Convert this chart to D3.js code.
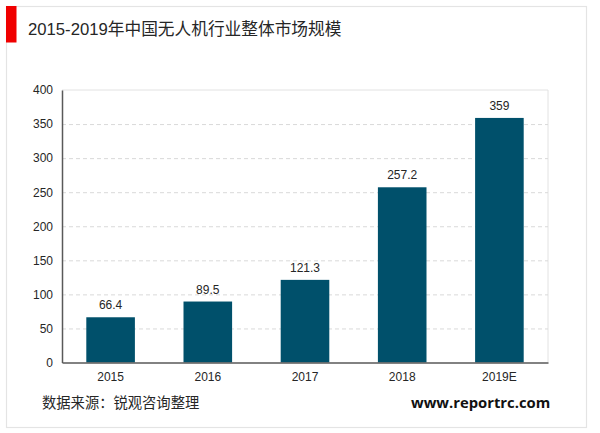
<!DOCTYPE html>
<html>
<head>
<meta charset="utf-8">
<script src="https://cdn.jsdelivr.net/npm/d3@7"></script>
<style>
html, body { margin: 0; padding: 0; background: #fff; }
text { font-family: "Liberation Sans", "Noto Sans CJK SC", sans-serif; fill: #262626; }
</style>
</head>
<body>
<div id="chart"></div>
<script>
var categories = ["2015", "2016", "2017", "2018", "2019E"];
var marketSize = [66.4, 89.5, 121.3, 257.2, 359];
var valueLabels = ["66.4", "89.5", "121.3", "257.2", "359"];
var yTicks = [0, 50, 100, 150, 200, 250, 300, 350, 400];

var titleText = "2015-2019年中国无人机行业整体市场规模";
var sourceText = "数据来源：锐观咨询整理";
var siteText = "www.reportrc.com";

var svg = d3.select("#chart").append("svg")
    .attr("width", 600).attr("height", 433)
    .style("display", "block");

// outer frame and red title marker
svg.append("rect").attr("x", 6.5).attr("y", 6.5).attr("width", 580).attr("height", 421)
    .attr("fill", "#fff").attr("stroke", "#e4e4e4").attr("stroke-width", 1.2);
svg.append("rect").attr("x", 6).attr("y", 6).attr("width", 10.5).attr("height", 36.5).attr("fill", "#f00000");
svg.append("text").attr("x", 28).attr("y", 35).attr("font-size", 16.7).text(titleText);

var x = d3.scaleBand().domain(categories).range([62, 548]).paddingInner(0.5).paddingOuter(0.25);
var y = d3.scaleLinear().domain([0, 400]).range([362.5, 90]);

// plot frame, top and right are light
svg.append("path").attr("d", "M62,90H548V362").attr("fill", "none").attr("stroke", "#e2e2e2").attr("stroke-width", 1);

var grid = svg.append("g").call(d3.axisLeft(y).tickValues(yTicks.slice(1, -1)).tickSize(-486).tickFormat(""))
    .attr("transform", "translate(62,0)");
grid.select(".domain").remove();
grid.selectAll("line").attr("stroke", "#d9d9d9").attr("stroke-dasharray", "4 3");

svg.selectAll("rect.bar").data(marketSize).enter().append("rect")
    .attr("class", "bar")
    .attr("x", function(d, i) { return x(categories[i]); })
    .attr("y", function(d) { return y(d); })
    .attr("width", x.bandwidth())
    .attr("height", function(d) { return y(0) - y(d); })
    .attr("fill", "#00506b");

svg.selectAll("text.val").data(marketSize).enter().append("text")
    .attr("class", "val")
    .attr("x", function(d, i) { return x(categories[i]) + x.bandwidth() / 2; })
    .attr("y", function(d) { return y(d) - 8; })
    .attr("text-anchor", "middle")
    .attr("font-size", 12)
    .text(function(d, i) { return valueLabels[i]; });

var yAxis = svg.append("g").attr("transform", "translate(62,0)")
    .call(d3.axisLeft(y).tickValues(yTicks).tickSize(0).tickPadding(9));
yAxis.select(".domain").attr("stroke", "#595959").attr("stroke-width", 1.5);
yAxis.selectAll("text").attr("font-size", 12).attr("font-family", null);

var xAxis = svg.append("g").attr("transform", "translate(0,362.5)")
    .call(d3.axisBottom(x).tickSize(0).tickPadding(10));
xAxis.select(".domain").attr("stroke", "#595959").attr("stroke-width", 1.5);
xAxis.selectAll("text").attr("font-size", 12).attr("font-family", null);

svg.append("text").attr("x", 42).attr("y", 408).attr("font-size", 14.3).text(sourceText);
svg.append("text").attr("x", 411).attr("y", 408).attr("font-size", 14.8).attr("font-weight", "bold")
    .style("font-family", "'Open Sans', sans-serif").style("fill", "#111").text(siteText);
</script>
</body>
</html>
